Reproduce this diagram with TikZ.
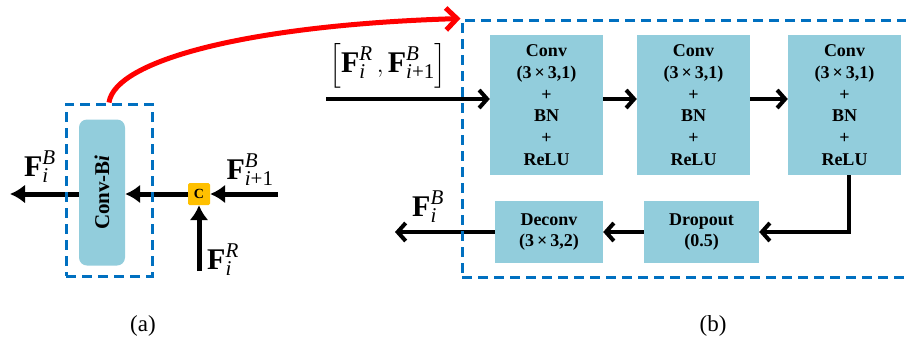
\documentclass[tikz,border=0pt]{standalone}
\usepackage{amsmath}
\usepackage{fontspec}
\setmainfont{Liberation Serif}
\usetikzlibrary{arrows.meta}
\definecolor{boxblue}{HTML}{92CDDC}
\definecolor{dashblue}{HTML}{0070C0}
\definecolor{corange}{HTML}{FFC000}
\begin{document}
\begin{tikzpicture}[x=1pt,y=-1pt,
  blk/.style={fill=boxblue, draw=none, inner sep=0pt, font=\bfseries\fontsize{18}{21.7}\selectfont, align=center},
  dbox/.style={draw=dashblue, line width=3pt, dash pattern=on 10pt off 6pt, inner sep=0pt},
  arra/.style={line width=5pt, -{Latex[length=15pt,width=19pt]}},
  arrb/.style={line width=4pt, -{Straight Barb[length=8pt,width=18pt]}},
  lbl/.style={font=\fontsize{30}{34}\selectfont, inner sep=0pt},
  capt/.style={font=\fontsize{23}{27}\selectfont, inner sep=0pt}
]
\useasboundingbox (0,0) rectangle (906,341);
% ---------- (a)
\node[blk, minimum width=46pt, minimum height=146pt, rounded corners=8pt] (convbi) at (102,192.5)
  {\rotatebox{90}{\fontsize{21}{25}\selectfont\bfseries Conv-B\textit{i}}};
\node[fill=corange, minimum width=22pt, minimum height=22pt, inner sep=0pt, rounded corners=1.5pt,
  font=\bfseries\fontsize{14}{16}\selectfont] (cbox) at (199,194) {C};
\coordinate (inB) at (278,194);
\coordinate (inR) at (199,271);
\coordinate (outB) at (10,194);
\draw[arra] (inB) -- (cbox.east);
\draw[arra] (inR) -- (cbox.south);
\draw[arra] (cbox.west) -- (cbox.west -| convbi.east);
\draw[arra] (outB -| convbi.west) -- (outB);
\node[lbl] (fib) at (40,167) {$\textbf{F}^{\textit{B}}_{\textit{i}}$};
\node[lbl] (fib1) at (250,170) {$\textbf{F}^{\textit{B}}_{\textit{i}\text{+1}}$};
\node[lbl] (fir) at (223,260) {$\textbf{F}^{\textit{R}}_{\textit{i}}$};
\node[dbox, minimum width=86pt, minimum height=172pt] (boxa) at (109,190) {};
\node[capt] (capa) at (143,326) {(a)};
% ---------- (b)
\node[blk, minimum width=113pt, minimum height=140pt] (c1) at (546.5,105)
  {Conv\\(3\,×\,3,1)\\+\\BN\\+\\ReLU};
\node[blk, minimum width=113pt, minimum height=140pt] (c2) at (693.5,105)
  {Conv\\(3\,×\,3,1)\\+\\BN\\+\\ReLU};
\node[blk, minimum width=113pt, minimum height=140pt] (c3) at (844.5,105)
  {Conv\\(3\,×\,3,1)\\+\\BN\\+\\ReLU};
\node[blk, minimum width=108pt, minimum height=62pt] (dec) at (549,232)
  {Deconv\\(3\,×\,3,2)};
\node[blk, minimum width=115pt, minimum height=62pt] (drop) at (701.5,232)
  {Dropout\\(0.5)};
\coordinate (in) at (326,99);
\coordinate (out) at (395,232);
\draw[arrb] (in) -- (in -| c1.west);
\draw[arrb] (in -| c1.east) -- (in -| c2.west);
\draw[arrb] (in -| c2.east) -- (in -| c3.west);
\draw[arrb] ([xshift=4.5pt]c3.south) |- (drop.east);
\draw[arrb] (drop.west) -- (dec.east);
\draw[arrb] (dec.west) -- (out);
\node[lbl] (inlbl) at (388,66) {$\left[\textbf{F}^{\textit{R}}_{\textit{i}}\,,\textbf{F}^{\textit{B}}_{\textit{i}\text{+1}}\right]$};
\node[lbl] (fob) at (428,207) {$\textbf{F}^{\textit{B}}_{\textit{i}}$};
\node[dbox, minimum width=446pt, minimum height=257pt] (boxb) at (685,148.5) {};
\node[capt] (capb) at (713,326) {(b)};
% ---------- red link
\draw[red, line width=5pt, -{Straight Barb[length=11pt,width=22pt]}]
  (boxa.north) .. controls (115,60) and (250,25) .. (boxb.north west);
\end{tikzpicture}
\end{document}
